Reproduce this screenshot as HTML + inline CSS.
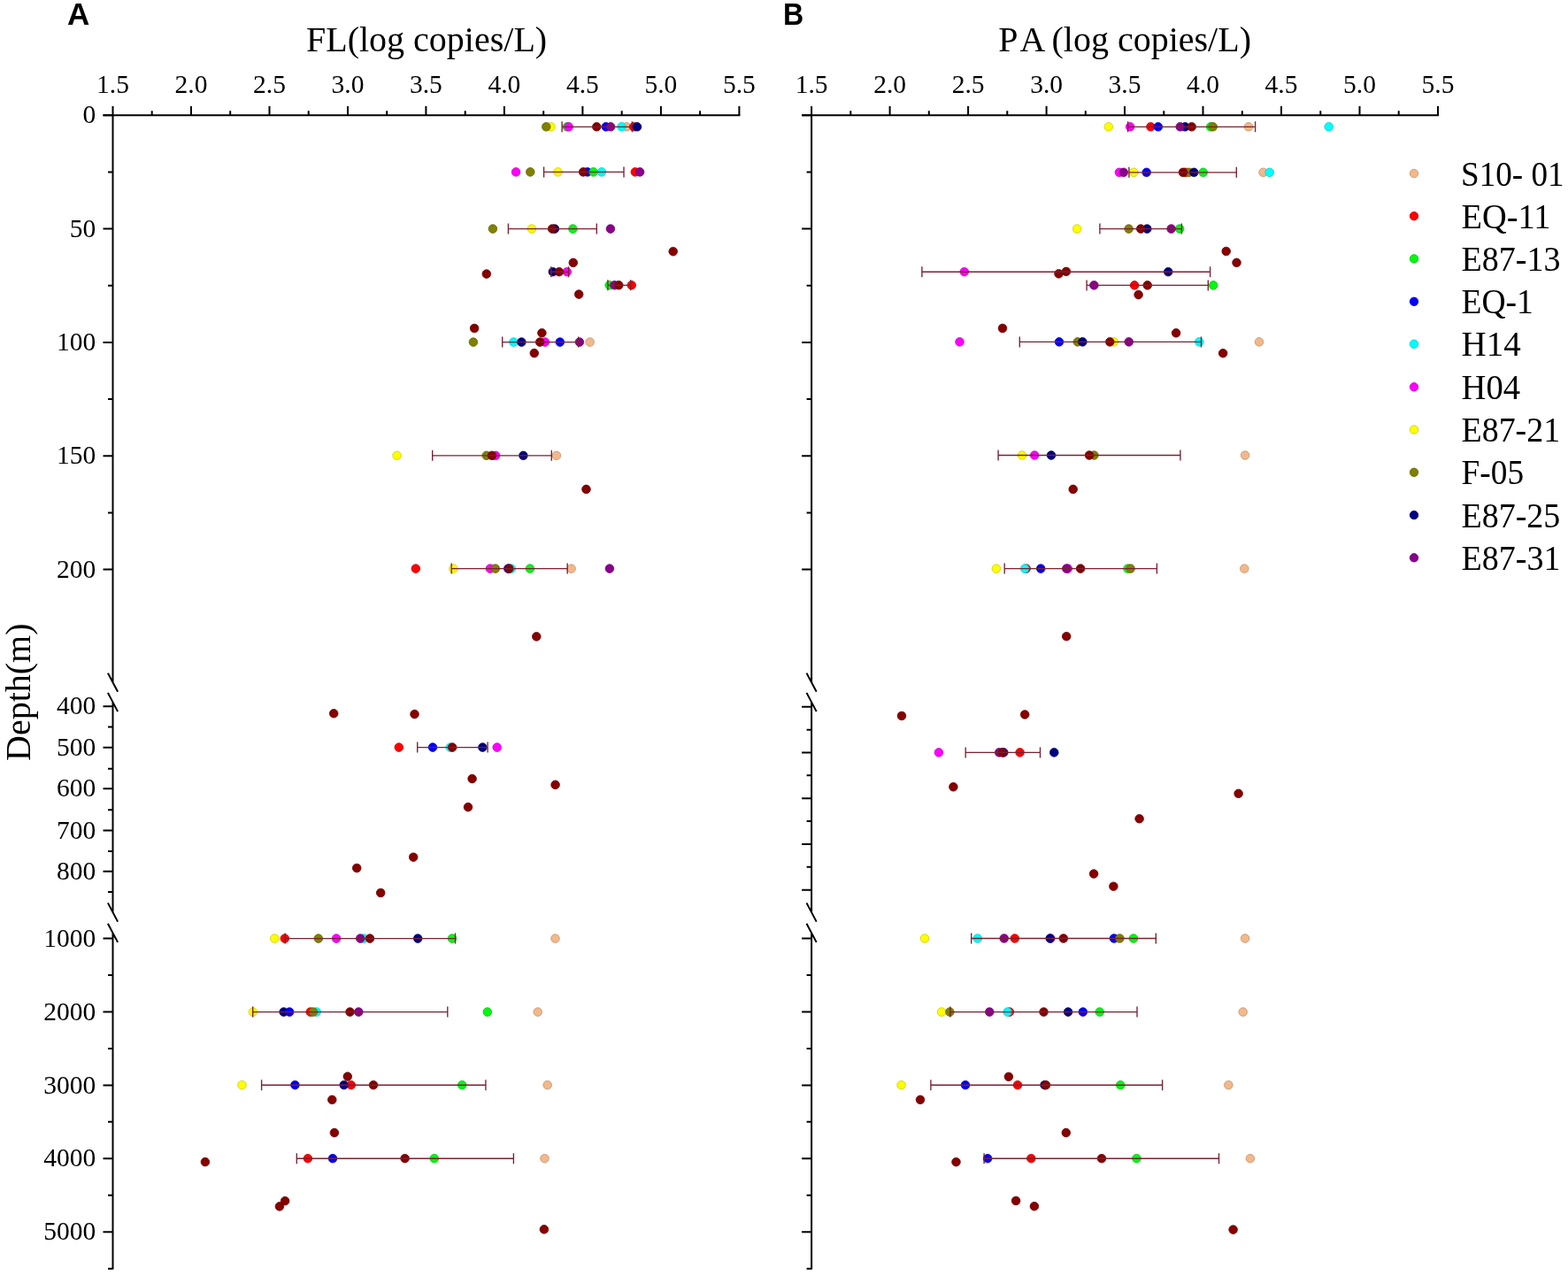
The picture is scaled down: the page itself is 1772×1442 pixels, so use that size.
<!DOCTYPE html>
<html><head><meta charset="utf-8"><title>FL and PA depth profiles</title>
<style>
html,body{margin:0;padding:0;background:#fff;}
svg{display:block;}
.tk{font-family:"Liberation Serif","Times New Roman",serif;font-size:29.5px;fill:#000;}
.lg{font-family:"Liberation Serif","Times New Roman",serif;font-size:39px;fill:#000;}
.ti{font-family:"Liberation Serif","Times New Roman",serif;font-size:40px;fill:#000;}
.pl{font-family:"Liberation Sans",Arial,sans-serif;font-weight:bold;font-size:35px;fill:#000;}
</style></head><body>
<svg width="1772" height="1442" viewBox="0 0 1772 1442">
<rect width="1772" height="1442" fill="#fff"/>
<text x="76" y="28" class="pl">A</text>
<text transform="translate(885 28) scale(0.92 1)" class="pl">B</text>
<text x="346" y="58.3" class="ti">FL(log copies/L)</text>
<text y="58.3" class="ti"><tspan x="1128.15">P</tspan><tspan x="1152.6">A</tspan><tspan x="1188.5">(log copies/L)</tspan></text>
<text transform="translate(34,860) rotate(-90)" class="ti">Depth(m)</text>
<g stroke="#000" stroke-width="2" fill="none">
<path d="M116.5 130.3H836.4" />
<path d="M127.5 130.3V120M171.7 130.3V125.2M216.0 130.3V120M260.2 130.3V125.2M304.5 130.3V120M348.7 130.3V125.2M393.0 130.3V120M437.2 130.3V125.2M481.4 130.3V120M525.7 130.3V125.2M569.9 130.3V120M614.2 130.3V125.2M658.4 130.3V120M702.7 130.3V125.2M746.9 130.3V120M791.1 130.3V125.2M835.4 130.3V120M127.5 130.3V771.6M127.5 793.9V1031M127.5 1054.3V1434.5M116.5 130.3H127.5M116.5 258.6H127.5M116.5 386.9H127.5M116.5 515.2H127.5M116.5 643.5H127.5M116.5 798.3H127.5M116.5 844.7H127.5M116.5 891.2H127.5M116.5 938.4H127.5M116.5 984.8H127.5M116.5 1060.5H127.5M116.5 1143.4H127.5M116.5 1226.4H127.5M116.5 1309.3H127.5M116.5 1392.2H127.5M122.0 194.4H127.5M122.0 322.8H127.5M122.0 451.1H127.5M122.0 579.4H127.5M122.0 821.5H127.5M122.0 868.7H127.5M122.0 915.2H127.5M122.0 961.9H127.5M122.0 1008.1H127.5M122.0 1102.0H127.5M122.0 1184.9H127.5M122.0 1267.8H127.5M122.0 1350.7H127.5M122.0 1433.7H127.5M121.9 760.6L133.1 781.8M121.9 782.9L133.1 804.1M121.9 1020.4L133.1 1041.6M121.9 1043.7L133.1 1064.9" />
</g>
<g stroke="#000" stroke-width="2" fill="none">
<path d="M906.1 130.3H1626.0" />
<path d="M917.1 130.3V120M961.3 130.3V125.2M1005.6 130.3V120M1049.8 130.3V125.2M1094.1 130.3V120M1138.3 130.3V125.2M1182.6 130.3V120M1226.8 130.3V125.2M1271.0 130.3V120M1315.3 130.3V125.2M1359.5 130.3V120M1403.8 130.3V125.2M1448.0 130.3V120M1492.3 130.3V125.2M1536.5 130.3V120M1580.7 130.3V125.2M1625.0 130.3V120M917.1 130.3V771.6M917.1 793.9V1031M917.1 1054.3V1434.5M906.1 130.3H917.1M906.1 258.6H917.1M906.1 386.9H917.1M906.1 515.2H917.1M906.1 643.5H917.1M906.1 798.7H917.1M906.1 850.5H917.1M906.1 902.2H917.1M906.1 953.9H917.1M906.1 1005.7H917.1M906.1 1060.5H917.1M906.1 1143.4H917.1M906.1 1226.4H917.1M906.1 1309.3H917.1M906.1 1392.2H917.1M911.6 194.4H917.1M911.6 322.8H917.1M911.6 451.1H917.1M911.6 579.4H917.1M911.6 824.7H917.1M911.6 876.3H917.1M911.6 928.0H917.1M911.6 979.8H917.1M911.6 1102.0H917.1M911.6 1184.9H917.1M911.6 1267.8H917.1M911.6 1350.7H917.1M911.6 1433.7H917.1M911.5 760.6L922.7 781.8M911.5 782.9L922.7 804.1M911.5 1020.4L922.7 1041.6M911.5 1043.7L922.7 1064.9" />
</g>
<g text-anchor="middle" class="tk"><text x="127.5" y="105">1.5</text><text x="216.0" y="105">2.0</text><text x="304.5" y="105">2.5</text><text x="393.0" y="105">3.0</text><text x="481.4" y="105">3.5</text><text x="569.9" y="105">4.0</text><text x="658.4" y="105">4.5</text><text x="746.9" y="105">5.0</text><text x="835.4" y="105">5.5</text></g>
<g text-anchor="end" class="tk"><text x="108.3" y="139.4">0</text><text x="108.3" y="267.7">50</text><text x="108.3" y="396.0">100</text><text x="108.3" y="524.3">150</text><text x="108.3" y="652.6">200</text><text x="108.3" y="807.4">400</text><text x="108.3" y="853.8">500</text><text x="108.3" y="900.3">600</text><text x="108.3" y="947.5">700</text><text x="108.3" y="993.9">800</text><text x="108.3" y="1069.6">1000</text><text x="108.3" y="1152.5">2000</text><text x="108.3" y="1235.5">3000</text><text x="108.3" y="1318.4">4000</text><text x="108.3" y="1401.3">5000</text></g>
<g text-anchor="middle" class="tk"><text x="917.1" y="105">1.5</text><text x="1005.6" y="105">2.0</text><text x="1094.1" y="105">2.5</text><text x="1182.6" y="105">3.0</text><text x="1271.0" y="105">3.5</text><text x="1359.5" y="105">4.0</text><text x="1448.0" y="105">4.5</text><text x="1536.5" y="105">5.0</text><text x="1625.0" y="105">5.5</text></g>
<g fill="#F2B88A" stroke="#C1936E" stroke-width="0.8"><circle cx="708.2" cy="143.3" r="4.8"/><circle cx="666.6" cy="386.6" r="4.8"/><circle cx="628.9" cy="514.8" r="4.8"/><circle cx="645.6" cy="642.6" r="4.8"/><circle cx="627.5" cy="1060.6" r="4.8"/><circle cx="607.7" cy="1143.6" r="4.8"/><circle cx="618.7" cy="1226.2" r="4.8"/><circle cx="615.5" cy="1309.2" r="4.8"/></g>
<g fill="#FF0000" stroke="#CC0000" stroke-width="0.8"><circle cx="716.1" cy="143.3" r="4.8"/><circle cx="717.8" cy="194.4" r="4.8"/><circle cx="713.7" cy="322.3" r="4.8"/><circle cx="469.8" cy="642.6" r="4.8"/><circle cx="450.8" cy="844.6" r="4.8"/><circle cx="321.8" cy="1060.6" r="4.8"/><circle cx="350.7" cy="1143.6" r="4.8"/><circle cx="396.8" cy="1226.2" r="4.8"/><circle cx="347.9" cy="1309.2" r="4.8"/></g>
<g fill="#02F812" stroke="#01C60E" stroke-width="0.8"><circle cx="640.9" cy="143.3" r="4.8"/><circle cx="647.4" cy="258.6" r="4.8"/><circle cx="688.7" cy="322.3" r="4.8"/><circle cx="598.9" cy="642.6" r="4.8"/><circle cx="511.0" cy="1060.6" r="4.8"/><circle cx="550.8" cy="1143.6" r="4.8"/><circle cx="522.2" cy="1226.2" r="4.8"/><circle cx="490.8" cy="1309.2" r="4.8"/></g>
<g fill="#0000FF" stroke="#0000CC" stroke-width="0.8"><circle cx="684.8" cy="143.3" r="4.8"/><circle cx="663.8" cy="194.4" r="4.8"/><circle cx="632.8" cy="386.6" r="4.8"/><circle cx="574.3" cy="642.6" r="4.8"/><circle cx="489.0" cy="844.6" r="4.8"/><circle cx="333.4" cy="1226.2" r="4.8"/><circle cx="376.0" cy="1309.2" r="4.8"/></g>
<g fill="#02F812" stroke="#01C60E" stroke-width="0.8"><circle cx="670.6" cy="194.4" r="4.8"/></g>
<g fill="#00FFFF" stroke="#00CCCC" stroke-width="0.8"><circle cx="702.5" cy="143.3" r="4.8"/><circle cx="679.9" cy="194.4" r="4.8"/><circle cx="580.4" cy="386.6" r="4.8"/><circle cx="577.7" cy="642.6" r="4.8"/><circle cx="508.8" cy="844.6" r="4.8"/><circle cx="411.2" cy="1060.6" r="4.8"/><circle cx="357.7" cy="1143.6" r="4.8"/></g>
<g fill="#FF00FF" stroke="#CC00CC" stroke-width="0.8"><circle cx="642.7" cy="143.3" r="4.8"/><circle cx="583.1" cy="194.4" r="4.8"/><circle cx="640.8" cy="307.2" r="4.8"/><circle cx="616.0" cy="386.6" r="4.8"/><circle cx="560.1" cy="514.8" r="4.8"/><circle cx="553.9" cy="642.6" r="4.8"/><circle cx="561.7" cy="844.6" r="4.8"/><circle cx="380.1" cy="1060.6" r="4.8"/></g>
<g fill="#FFFF00" stroke="#CCCC00" stroke-width="0.8"><circle cx="622.5" cy="143.3" r="4.8"/><circle cx="630.5" cy="194.4" r="4.8"/><circle cx="600.9" cy="258.6" r="4.8"/><circle cx="448.6" cy="514.8" r="4.8"/><circle cx="512.4" cy="642.6" r="4.8"/><circle cx="310.3" cy="1060.6" r="4.8"/><circle cx="285.8" cy="1143.6" r="4.8"/><circle cx="273.5" cy="1226.2" r="4.8"/></g>
<g fill="#808000" stroke="#666600" stroke-width="0.8"><circle cx="617.3" cy="143.3" r="4.8"/><circle cx="599.3" cy="194.4" r="4.8"/><circle cx="556.9" cy="258.6" r="4.8"/><circle cx="534.9" cy="386.6" r="4.8"/><circle cx="549.8" cy="514.8" r="4.8"/><circle cx="559.8" cy="642.6" r="4.8"/><circle cx="359.8" cy="1060.6" r="4.8"/><circle cx="353.9" cy="1143.6" r="4.8"/></g>
<g fill="#000080" stroke="#000066" stroke-width="0.8"><circle cx="720.0" cy="143.3" r="4.8"/><circle cx="626.9" cy="258.6" r="4.8"/><circle cx="624.8" cy="307.2" r="4.8"/><circle cx="589.4" cy="386.6" r="4.8"/><circle cx="591.4" cy="514.8" r="4.8"/><circle cx="545.4" cy="844.6" r="4.8"/><circle cx="472.2" cy="1060.6" r="4.8"/><circle cx="320.6" cy="1143.6" r="4.8"/><circle cx="388.7" cy="1226.2" r="4.8"/></g>
<g fill="#0000FF" stroke="#0000CC" stroke-width="0.8"><circle cx="327.2" cy="1143.6" r="4.8"/></g>
<g fill="#8A008C" stroke="#6E0070" stroke-width="0.8"><circle cx="690.1" cy="143.3" r="4.8"/><circle cx="723.1" cy="194.4" r="4.8"/><circle cx="689.9" cy="258.6" r="4.8"/><circle cx="694.4" cy="322.3" r="4.8"/><circle cx="654.9" cy="386.6" r="4.8"/><circle cx="688.9" cy="642.6" r="4.8"/><circle cx="407.2" cy="1060.6" r="4.8"/><circle cx="405.3" cy="1143.6" r="4.8"/></g>
<g fill="#860000" stroke="#6B0000" stroke-width="0.8"><circle cx="674.3" cy="143.3" r="4.8"/><circle cx="659.1" cy="194.4" r="4.8"/><circle cx="624.1" cy="258.6" r="4.8"/><circle cx="631.9" cy="307.2" r="4.8"/><circle cx="699.3" cy="322.3" r="4.8"/><circle cx="610.2" cy="386.6" r="4.8"/><circle cx="556.0" cy="514.8" r="4.8"/><circle cx="575.4" cy="642.6" r="4.8"/><circle cx="511.2" cy="844.6" r="4.8"/><circle cx="418.0" cy="1060.6" r="4.8"/><circle cx="395.5" cy="1143.6" r="4.8"/><circle cx="422.0" cy="1226.2" r="4.8"/><circle cx="457.6" cy="1309.2" r="4.8"/><circle cx="760.7" cy="284.2" r="4.8"/><circle cx="647.8" cy="296.9" r="4.8"/><circle cx="549.8" cy="309.6" r="4.8"/><circle cx="654.2" cy="332.6" r="4.8"/><circle cx="536.1" cy="371.0" r="4.8"/><circle cx="612.4" cy="376.3" r="4.8"/><circle cx="603.8" cy="399.1" r="4.8"/><circle cx="662.5" cy="552.9" r="4.8"/><circle cx="606.3" cy="719.4" r="4.8"/><circle cx="377.2" cy="806.3" r="4.8"/><circle cx="468.5" cy="807.1" r="4.8"/><circle cx="533.6" cy="880.1" r="4.8"/><circle cx="627.6" cy="886.9" r="4.8"/><circle cx="529.0" cy="912.1" r="4.8"/><circle cx="467.2" cy="968.7" r="4.8"/><circle cx="403.2" cy="981.0" r="4.8"/><circle cx="430.2" cy="1009.0" r="4.8"/><circle cx="392.8" cy="1216.6" r="4.8"/><circle cx="375.3" cy="1242.8" r="4.8"/><circle cx="377.9" cy="1280.1" r="4.8"/><circle cx="231.9" cy="1313.1" r="4.8"/><circle cx="322.1" cy="1357.2" r="4.8"/><circle cx="315.9" cy="1363.4" r="4.8"/><circle cx="614.9" cy="1389.3" r="4.8"/></g>
<path d="M635.1 143.3H714.4M635.1 137.3V149.3M714.4 137.3V149.3M614.6 194.4H705.0M614.6 188.4V200.4M705.0 188.4V200.4M574.4 258.6H674.3M574.4 252.6V264.6M674.3 252.6V264.6M622.7 307.2H642.6M622.7 301.2V313.2M642.6 301.2V313.2M686.9 322.3H712.7M686.9 316.3V328.3M712.7 316.3V328.3M567.7 386.6H653.6M567.7 380.6V392.6M653.6 380.6V392.6M488.7 514.8H623.3M488.7 508.8V520.8M623.3 508.8V520.8M510.2 642.6H641.2M510.2 636.6V648.6M641.2 636.6V648.6M471.7 844.6H551.1M471.7 838.6V850.6M551.1 838.6V850.6M322.2 1060.6H514.5M322.2 1054.6V1066.6M514.5 1054.6V1066.6M285.7 1143.6H505.8M285.7 1137.6V1149.6M505.8 1137.6V1149.6M295.6 1226.2H548.9M295.6 1220.2V1232.2M548.9 1220.2V1232.2M335.3 1309.2H580.4M335.3 1303.2V1315.2M580.4 1303.2V1315.2" stroke="#7A2030" stroke-width="1.35" fill="none"/>
<g fill="#F2B88A" stroke="#C1936E" stroke-width="0.8"><circle cx="1411.0" cy="143.3" r="4.8"/><circle cx="1427.5" cy="194.8" r="4.8"/><circle cx="1423.0" cy="386.4" r="4.8"/><circle cx="1407.1" cy="514.5" r="4.8"/><circle cx="1406.3" cy="642.6" r="4.8"/><circle cx="1407.1" cy="1060.5" r="4.8"/><circle cx="1404.7" cy="1143.6" r="4.8"/><circle cx="1388.3" cy="1226.2" r="4.8"/><circle cx="1412.9" cy="1309.2" r="4.8"/></g>
<g fill="#FF0000" stroke="#CC0000" stroke-width="0.8"><circle cx="1300.4" cy="143.3" r="4.8"/><circle cx="1339.9" cy="194.8" r="4.8"/><circle cx="1282.1" cy="322.4" r="4.8"/><circle cx="1159.7" cy="642.6" r="4.8"/><circle cx="1152.6" cy="850.4" r="4.8"/><circle cx="1146.8" cy="1060.5" r="4.8"/><circle cx="1140.9" cy="1143.6" r="4.8"/><circle cx="1150.0" cy="1226.2" r="4.8"/><circle cx="1165.3" cy="1309.2" r="4.8"/></g>
<g fill="#02F812" stroke="#01C60E" stroke-width="0.8"><circle cx="1368.1" cy="143.3" r="4.8"/><circle cx="1359.7" cy="194.8" r="4.8"/><circle cx="1333.2" cy="258.6" r="4.8"/><circle cx="1371.2" cy="322.4" r="4.8"/><circle cx="1274.5" cy="642.6" r="4.8"/><circle cx="1280.9" cy="1060.5" r="4.8"/><circle cx="1242.7" cy="1143.6" r="4.8"/><circle cx="1266.2" cy="1226.2" r="4.8"/><circle cx="1284.4" cy="1309.2" r="4.8"/></g>
<g fill="#0000FF" stroke="#0000CC" stroke-width="0.8"><circle cx="1308.8" cy="143.3" r="4.8"/><circle cx="1295.7" cy="194.8" r="4.8"/><circle cx="1197.0" cy="386.4" r="4.8"/><circle cx="1176.2" cy="642.6" r="4.8"/><circle cx="1134.3" cy="850.4" r="4.8"/><circle cx="1258.9" cy="1060.5" r="4.8"/><circle cx="1091.0" cy="1226.2" r="4.8"/><circle cx="1116.1" cy="1309.2" r="4.8"/></g>
<g fill="#00FFFF" stroke="#00CCCC" stroke-width="0.8"><circle cx="1501.7" cy="143.3" r="4.8"/><circle cx="1434.7" cy="194.8" r="4.8"/><circle cx="1355.3" cy="386.4" r="4.8"/><circle cx="1158.2" cy="642.6" r="4.8"/><circle cx="1104.7" cy="1060.5" r="4.8"/><circle cx="1138.6" cy="1143.6" r="4.8"/></g>
<g fill="#FF00FF" stroke="#CC00CC" stroke-width="0.8"><circle cx="1277.2" cy="143.3" r="4.8"/><circle cx="1264.9" cy="194.8" r="4.8"/><circle cx="1089.8" cy="307.2" r="4.8"/><circle cx="1084.5" cy="386.4" r="4.8"/><circle cx="1169.2" cy="514.5" r="4.8"/><circle cx="1206.8" cy="642.6" r="4.8"/><circle cx="1060.9" cy="850.4" r="4.8"/><circle cx="1187.3" cy="1060.5" r="4.8"/></g>
<g fill="#FFFF00" stroke="#CCCC00" stroke-width="0.8"><circle cx="1252.8" cy="143.3" r="4.8"/><circle cx="1281.2" cy="194.8" r="4.8"/><circle cx="1217.2" cy="258.6" r="4.8"/><circle cx="1258.8" cy="386.4" r="4.8"/><circle cx="1155.1" cy="514.5" r="4.8"/><circle cx="1125.9" cy="642.6" r="4.8"/><circle cx="1045.0" cy="1060.5" r="4.8"/><circle cx="1064.1" cy="1143.6" r="4.8"/><circle cx="1018.6" cy="1226.2" r="4.8"/></g>
<g fill="#808000" stroke="#666600" stroke-width="0.8"><circle cx="1370.7" cy="143.3" r="4.8"/><circle cx="1343.7" cy="194.8" r="4.8"/><circle cx="1275.6" cy="258.6" r="4.8"/><circle cx="1217.8" cy="386.4" r="4.8"/><circle cx="1236.4" cy="514.5" r="4.8"/><circle cx="1277.6" cy="642.6" r="4.8"/><circle cx="1265.4" cy="1060.5" r="4.8"/><circle cx="1073.4" cy="1143.6" r="4.8"/></g>
<g fill="#000080" stroke="#000066" stroke-width="0.8"><circle cx="1339.3" cy="143.3" r="4.8"/><circle cx="1349.3" cy="194.8" r="4.8"/><circle cx="1296.3" cy="258.6" r="4.8"/><circle cx="1320.2" cy="307.2" r="4.8"/><circle cx="1223.4" cy="386.4" r="4.8"/><circle cx="1188.0" cy="514.5" r="4.8"/><circle cx="1191.3" cy="850.4" r="4.8"/><circle cx="1186.7" cy="1060.5" r="4.8"/><circle cx="1207.1" cy="1143.6" r="4.8"/><circle cx="1180.5" cy="1226.2" r="4.8"/></g>
<g fill="#0000FF" stroke="#0000CC" stroke-width="0.8"><circle cx="1223.8" cy="1143.6" r="4.8"/></g>
<g fill="#8A008C" stroke="#6E0070" stroke-width="0.8"><circle cx="1333.7" cy="143.3" r="4.8"/><circle cx="1269.8" cy="194.8" r="4.8"/><circle cx="1323.6" cy="258.6" r="4.8"/><circle cx="1236.4" cy="322.4" r="4.8"/><circle cx="1275.7" cy="386.4" r="4.8"/><circle cx="1205.3" cy="642.6" r="4.8"/><circle cx="1129.2" cy="850.4" r="4.8"/><circle cx="1134.7" cy="1060.5" r="4.8"/><circle cx="1118.3" cy="1143.6" r="4.8"/></g>
<g fill="#860000" stroke="#6B0000" stroke-width="0.8"><circle cx="1346.7" cy="143.3" r="4.8"/><circle cx="1336.9" cy="194.8" r="4.8"/><circle cx="1289.2" cy="258.6" r="4.8"/><circle cx="1296.7" cy="322.4" r="4.8"/><circle cx="1254.3" cy="386.4" r="4.8"/><circle cx="1231.0" cy="514.5" r="4.8"/><circle cx="1221.1" cy="642.6" r="4.8"/><circle cx="1133.0" cy="850.4" r="4.8"/><circle cx="1201.8" cy="1060.5" r="4.8"/><circle cx="1179.5" cy="1143.6" r="4.8"/><circle cx="1182.0" cy="1226.2" r="4.8"/><circle cx="1245.0" cy="1309.2" r="4.8"/><circle cx="1385.7" cy="284.0" r="4.8"/><circle cx="1397.5" cy="296.8" r="4.8"/><circle cx="1204.9" cy="306.9" r="4.8"/><circle cx="1196.5" cy="309.4" r="4.8"/><circle cx="1286.6" cy="333.1" r="4.8"/><circle cx="1133.0" cy="371.0" r="4.8"/><circle cx="1329.1" cy="376.3" r="4.8"/><circle cx="1382.1" cy="399.2" r="4.8"/><circle cx="1212.7" cy="552.9" r="4.8"/><circle cx="1205.2" cy="719.2" r="4.8"/><circle cx="1019.0" cy="809.0" r="4.8"/><circle cx="1158.2" cy="807.5" r="4.8"/><circle cx="1077.4" cy="889.3" r="4.8"/><circle cx="1399.6" cy="896.8" r="4.8"/><circle cx="1287.6" cy="925.3" r="4.8"/><circle cx="1236.1" cy="987.5" r="4.8"/><circle cx="1258.4" cy="1001.7" r="4.8"/><circle cx="1139.9" cy="1216.8" r="4.8"/><circle cx="1040.0" cy="1242.8" r="4.8"/><circle cx="1204.8" cy="1280.1" r="4.8"/><circle cx="1080.5" cy="1313.2" r="4.8"/><circle cx="1148.1" cy="1357.0" r="4.8"/><circle cx="1168.9" cy="1363.2" r="4.8"/><circle cx="1393.6" cy="1389.6" r="4.8"/></g>
<path d="M1274.6 143.3H1418.6M1274.6 137.3V149.3M1418.6 137.3V149.3M1275.9 194.8H1397.3M1275.9 188.8V200.8M1397.3 188.8V200.8M1242.9 258.6H1335.4M1242.9 252.6V264.6M1335.4 252.6V264.6M1041.9 307.2H1367.6M1041.9 301.2V313.2M1367.6 301.2V313.2M1228.1 322.4H1365.3M1228.1 316.4V328.4M1365.3 316.4V328.4M1152.3 386.4H1357.5M1152.3 380.4V392.4M1357.5 380.4V392.4M1128.1 514.5H1333.9M1128.1 508.5V520.5M1333.9 508.5V520.5M1135.2 642.6H1307.4M1135.2 636.6V648.6M1307.4 636.6V648.6M1091.2 850.4H1175.5M1091.2 844.4V856.4M1175.5 844.4V856.4M1097.7 1060.5H1306.3M1097.7 1054.5V1066.5M1306.3 1054.5V1066.5M1073.9 1143.6H1285.0M1073.9 1137.6V1149.6M1285.0 1137.6V1149.6M1051.9 1226.2H1313.6M1051.9 1220.2V1232.2M1313.6 1220.2V1232.2M1112.1 1309.2H1377.5M1112.1 1303.2V1315.2M1377.5 1303.2V1315.2" stroke="#7A2030" stroke-width="1.35" fill="none"/>
<circle cx="1598" cy="196.0" r="4.75" fill="#F2B88A" stroke="#C1936E" stroke-width="0.8"/>
<text x="1651.0" y="209.5" class="lg" textLength="116.6" lengthAdjust="spacingAndGlyphs">S10- 01</text>
<circle cx="1598" cy="244.2" r="4.75" fill="#FF0000" stroke="#CC0000" stroke-width="0.8"/>
<text x="1651.5" y="257.7" class="lg" textLength="100.9" lengthAdjust="spacingAndGlyphs">EQ-11</text>
<circle cx="1598" cy="292.4" r="4.75" fill="#02F812" stroke="#01C60E" stroke-width="0.8"/>
<text x="1651.5" y="305.9" class="lg" textLength="111.9" lengthAdjust="spacingAndGlyphs">E87-13</text>
<circle cx="1598" cy="340.8" r="4.75" fill="#0000FF" stroke="#0000CC" stroke-width="0.8"/>
<text x="1651.5" y="354.3" class="lg" textLength="81.4" lengthAdjust="spacingAndGlyphs">EQ-1</text>
<circle cx="1598" cy="388.8" r="4.75" fill="#00FFFF" stroke="#00CCCC" stroke-width="0.8"/>
<text x="1651.5" y="402.3" class="lg" textLength="67.2" lengthAdjust="spacingAndGlyphs">H14</text>
<circle cx="1598" cy="437.3" r="4.75" fill="#FF00FF" stroke="#CC00CC" stroke-width="0.8"/>
<text x="1651.5" y="450.8" class="lg" textLength="66.5" lengthAdjust="spacingAndGlyphs">H04</text>
<circle cx="1598" cy="485.6" r="4.75" fill="#FFFF00" stroke="#CCCC00" stroke-width="0.8"/>
<text x="1651.5" y="499.1" class="lg" textLength="111.7" lengthAdjust="spacingAndGlyphs">E87-21</text>
<circle cx="1598" cy="533.8" r="4.75" fill="#808000" stroke="#666600" stroke-width="0.8"/>
<text x="1651.5" y="547.3" class="lg" textLength="70.6" lengthAdjust="spacingAndGlyphs">F-05</text>
<circle cx="1598" cy="582.1" r="4.75" fill="#000080" stroke="#000066" stroke-width="0.8"/>
<text x="1651.5" y="595.6" class="lg" textLength="111.8" lengthAdjust="spacingAndGlyphs">E87-25</text>
<circle cx="1598" cy="630.3" r="4.75" fill="#8A008C" stroke="#6E0070" stroke-width="0.8"/>
<text x="1651.5" y="643.8" class="lg" textLength="111.9" lengthAdjust="spacingAndGlyphs">E87-31</text>
</svg>
</body></html>
